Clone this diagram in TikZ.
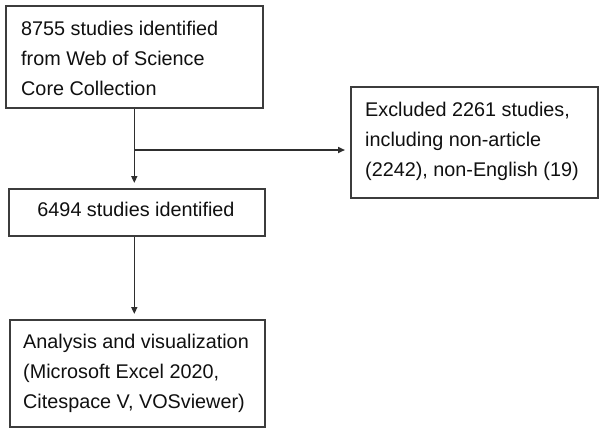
\documentclass[tikz,border=0pt]{standalone}
\usepackage{fontspec}
\setmainfont{Liberation Sans}
\usetikzlibrary{arrows.meta}
\definecolor{boxgray}{HTML}{3C3C3C}
\definecolor{linegray}{HTML}{2E2E2E}
\definecolor{txtcol}{HTML}{101010}
\begin{document}
\begin{tikzpicture}[x=1pt,y=-1pt,
  box/.style={draw=boxgray, line width=1.6pt, inner sep=0pt, anchor=north west},
  txt/.style={inner sep=0pt, anchor=north west, align=left, text=txtcol,
              font=\fontsize{19.8}{30}\selectfont},
  ctxt/.style={inner sep=0pt, anchor=base, text=txtcol,
              font=\fontsize{19.8}{30}\selectfont},
  arr/.style={draw=linegray, line width=1.6pt,
              -{Triangle[length=7pt,width=6pt]}, shorten >=5pt}]
\useasboundingbox[fill=white] (0,0) rectangle (600,432);

% boxes
\node[box, minimum width=257pt, minimum height=102pt] (b1) at (5,5) {};
\node[box, minimum width=256pt, minimum height=47pt]  (b2) at (8,188) {};
\node[box, minimum width=247pt, minimum height=111pt] (b3) at (350,86) {};
\node[box, minimum width=255pt, minimum height=107pt] (b4) at (9,319) {};

% texts
\node[txt] (t1) at (21,20) {\rule{0pt}{15pt}8755 studies identified\\from Web of Science\\Core Collection};
\node[ctxt] (t2) at (136,216) {6494 studies identified};
\node[txt] (t3) at (365,101) {\rule{0pt}{15pt}Excluded 2261 studies,\\including non-article\\(2242), non-English (19)};
\node[txt] (t4) at (23,333) {\rule{0pt}{15pt}Analysis and visualization\\(Microsoft Excel 2020,\\Citespace V, VOSviewer)};

% connectors
\coordinate (lvl) at (0,150);
\coordinate (br) at (b1.south |- lvl);
\draw[arr] (b1.south) -- (b1.south |- b2.north);
\draw[arr] (br) -- (br -| b3.west);
\draw[arr] (b1.south |- b2.south) -- (b1.south |- b4.north);
\end{tikzpicture}
\end{document}
